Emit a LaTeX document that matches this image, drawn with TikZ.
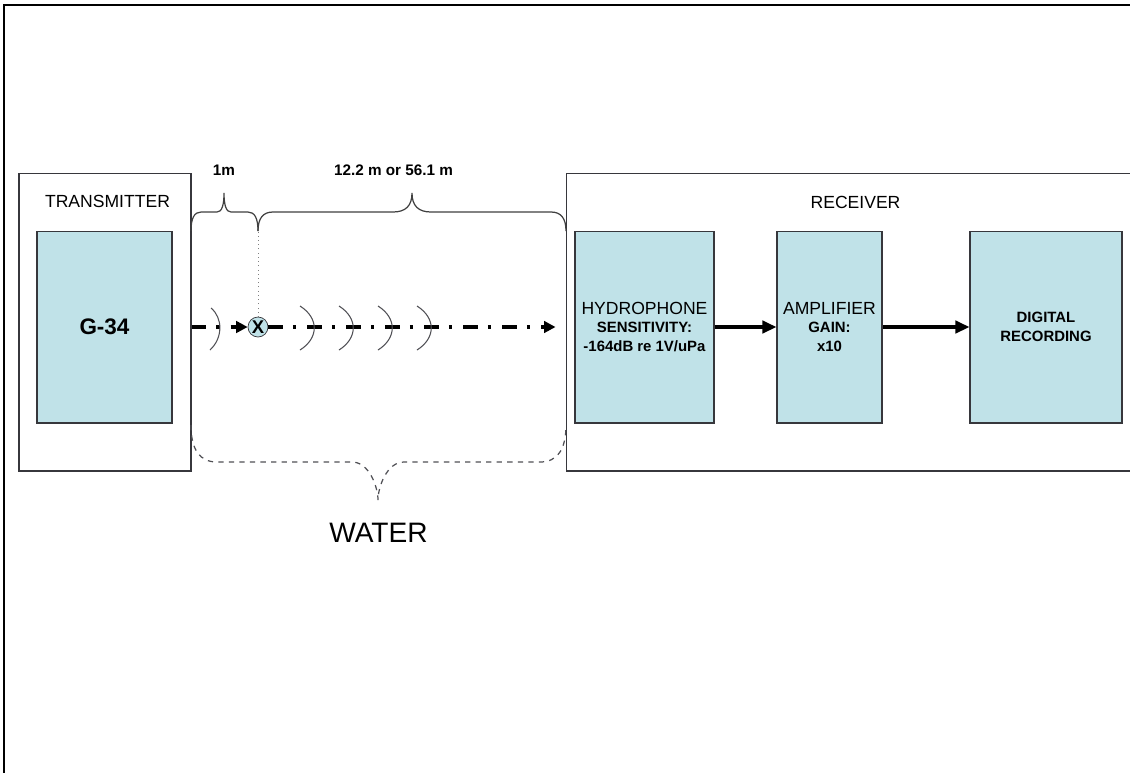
\documentclass[tikz,border=0pt]{standalone}
\usepackage{fontspec}
\setmainfont{Liberation Sans}
\usepackage{tikz}
\usetikzlibrary{arrows.meta, positioning, calc}
\definecolor{boxblue}{RGB}{192,226,232}
\definecolor{boxedge}{RGB}{55,55,60}
\definecolor{wavegray}{RGB}{80,80,85}
\tikzset{
  frame/.style={rectangle, draw=boxedge, fill=white, line width=0.6pt},
  unit/.style={rectangle, draw=boxedge, fill=boxblue, line width=0.6pt,
    align=center, font=\bfseries\fontsize{8.5}{10.8}\selectfont},
  lbl/.style={font=\fontsize{10}{12}\selectfont},
  blbl/.style={font=\bfseries\fontsize{8.7}{10}\selectfont},
  signal/.style={-{Triangle[length=6.5pt,width=6.5pt]}, line width=1.9pt,
    dash pattern=on 8.5pt off 5.5pt on 2pt off 6.2pt},
  arrow/.style={-{Triangle[length=8pt,width=7pt]}, line width=2pt},
  wave/.style={draw=wavegray, line width=0.6pt},
  brace/.style={draw=black!75, line width=0.7pt}
}

\begin{document}
\begin{tikzpicture}[x=0.02cm, y=-0.02cm]
    \useasboundingbox (0,0) rectangle (1130,772);
    \clip (0,0) rectangle (1130,772);
    \fill[white] (0,0) rectangle (1130,772);
    \draw[line width=1.2pt] (4,5) rectangle (1150,790);

    % transmitter side
    \node[frame, minimum width=3.44cm, minimum height=5.96cm] (tx) at (105,322) {};
    \node[lbl] (txlbl) at (107.5,201) {TRANSMITTER};
    \node[unit, minimum width=2.7cm, minimum height=3.84cm,
      font=\bfseries\fontsize{12.8}{15}\selectfont] (g34) at (104.5,327) {G-34};

    % receiver side
    \node[frame, minimum width=11.6cm, minimum height=5.96cm] (rx) at (856,322) {};
    \node[lbl] (rxlbl) at (855.5,202) {RECEIVER};
    \node[unit, minimum width=2.78cm, minimum height=3.84cm] (hydro) at (644.5,327)
      {{\mdseries\fontsize{10}{10.8}\selectfont HYDROPHONE}\\SENSITIVITY:\\-164dB re 1V/uPa};
    \node[unit, minimum width=2.1cm, minimum height=3.84cm] (amp) at (829.5,327)
      {{\mdseries\fontsize{10}{10.8}\selectfont AMPLIFIER}\\GAIN:\\x10};
    \node[unit, minimum width=3.04cm, minimum height=3.84cm] (rec) at (1046,327)
      {DIGITAL\\RECORDING};
    \draw[arrow] (hydro) -- (amp);
    \draw[arrow] (amp) -- (rec);

    % signal path through the water
    \node[circle, draw=boxedge, fill=boxblue, minimum size=0.4cm, inner sep=0pt,
      font=\bfseries\fontsize{10.5}{10.5}\selectfont] (pt) at (258,327) {X};
    \draw[signal] (g34 -| tx.east) -- (pt.west);
    \draw[signal, shorten >=0.2cm] (pt.east) -- (pt -| rx.west);
    \draw[wave] (211,308) .. controls (223,318) and (223,338) .. (210,350);
    \foreach \ax in {300,339,378,417}
      \draw[wave] (\ax,306) .. controls (\ax+19,318) and (\ax+19,338) .. (\ax,350);

    % distances
    \coordinate (mark) at (258,231);
    \draw[draw=gray, line width=0.4pt, dotted] (pt.north) -- (mark);
    \draw[brace] (191,231) .. controls (191,218.3) and (194.3,212) .. (201,212) -- (217,212)
      .. controls (221.7,212) and (224,205.7) .. (224,193)
      .. controls (224,205.7) and (226.3,212) .. (231,212)
      -- (248,212) .. controls (254.7,212) and (258,218.3) .. (mark);
    \draw[brace] (mark) .. controls (258,218.3) and (263,212) .. (273,212) -- (393,212)
      .. controls (405.7,212) and (412,205.7) .. (412,193)
      .. controls (412,205.7) and (418.3,212) .. (431,212)
      -- (551,212) .. controls (561,212) and (566,218.3) .. (566,231);
    \node[blbl] (d1) at (224,170.5) {1m};
    \node[blbl] (d2) at (393.5,170.5) {12.2 m or 56.1 m};

    \draw[brace, draw=wavegray, dashed]
      (191,425) .. controls (191,449.7) and (199.7,462) .. (217,462) -- (352,462)
      .. controls (369.3,462) and (378,487.3) .. (378,500)
      .. controls (378,487.3) and (386.7,462) .. (404,462) -- (540,462)
      .. controls (557.3,462) and (566,449.7) .. (566,425);
    \node[font=\fontsize{16}{18}\selectfont] (water) at (378.5,532.5) {WATER};
  \end{tikzpicture}
\end{document}
